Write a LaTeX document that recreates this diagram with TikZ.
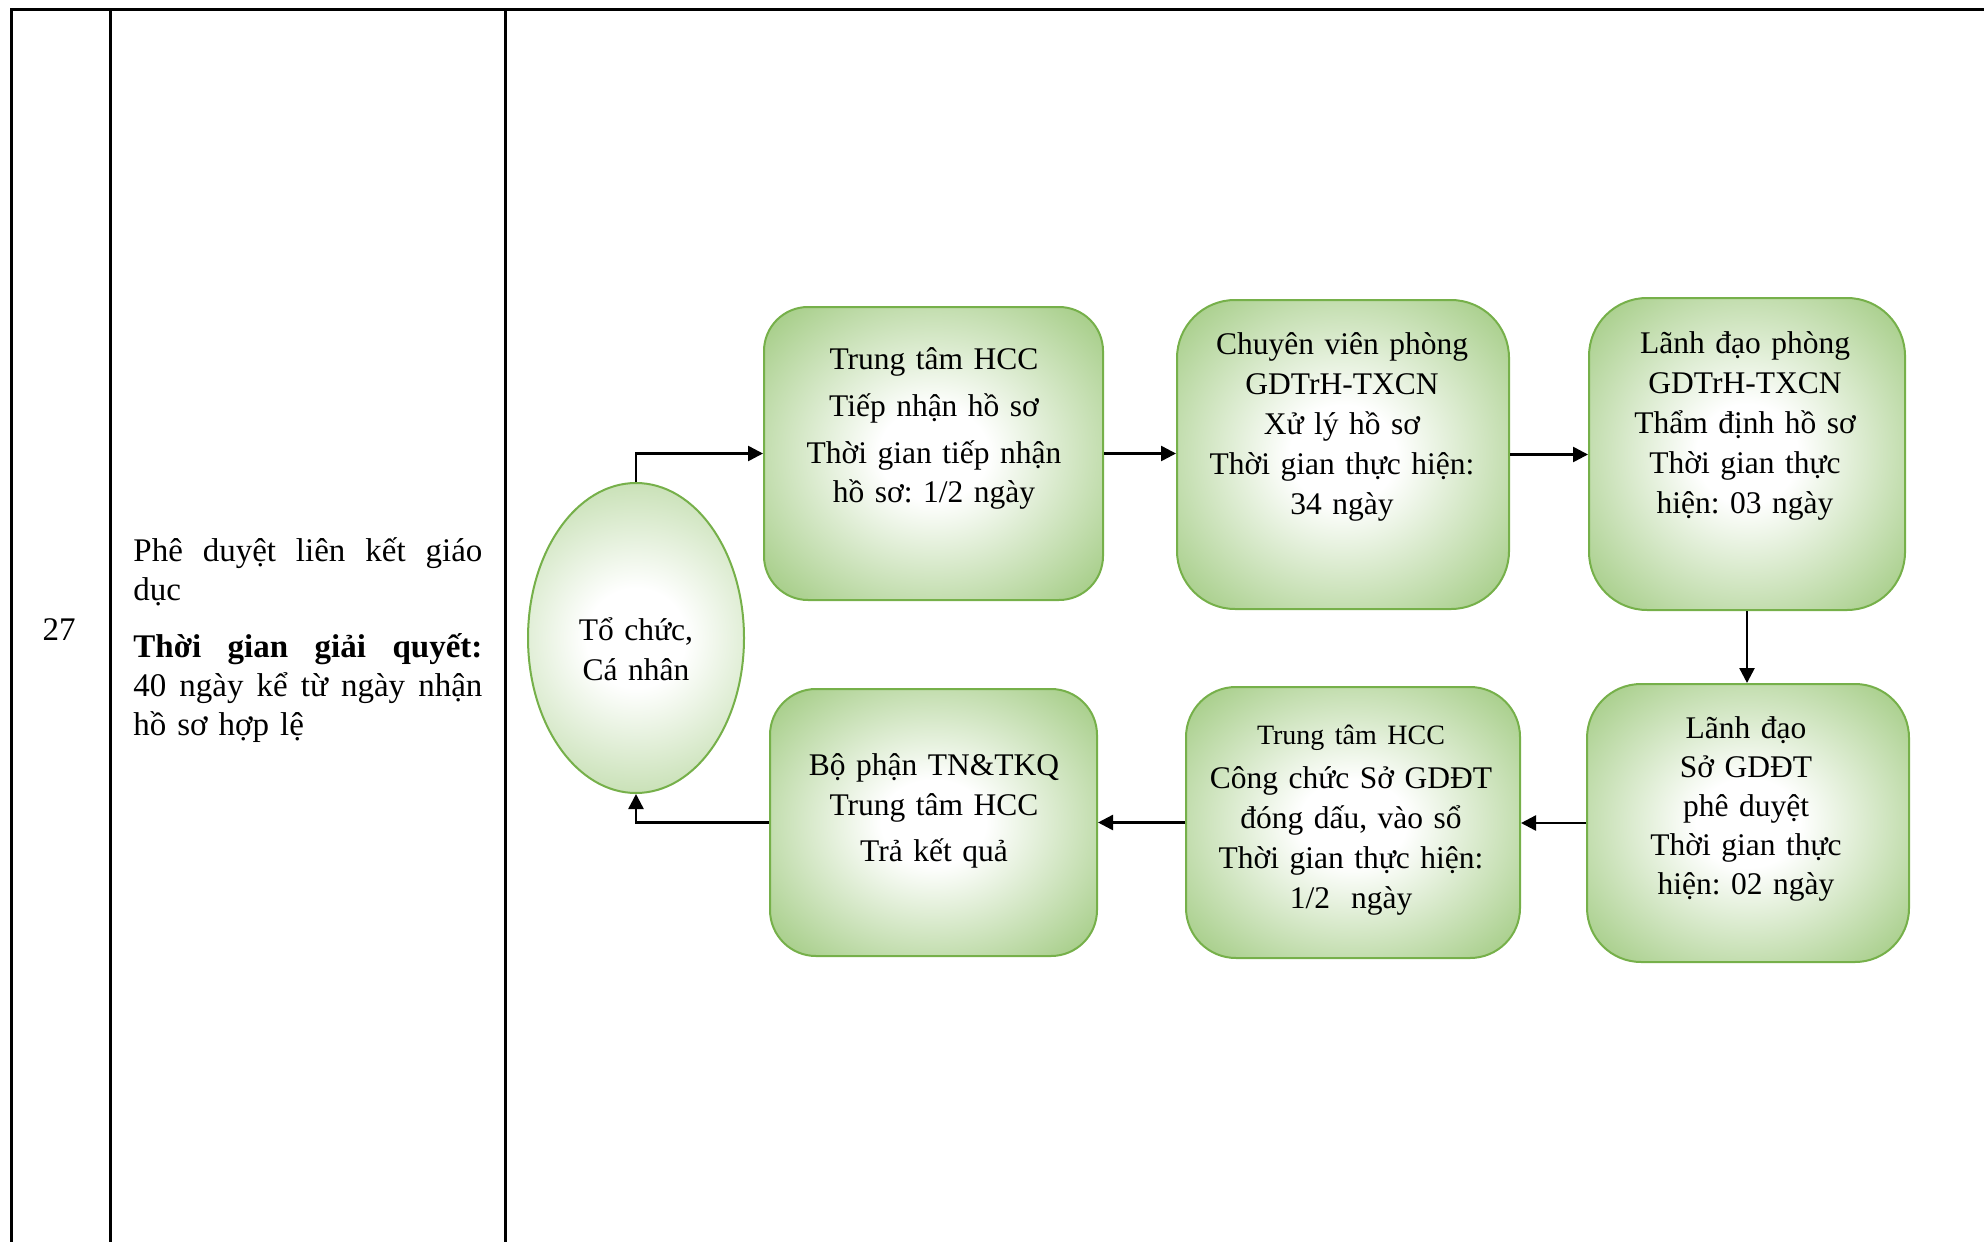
\documentclass[tikz,border=0pt]{standalone}
\usepackage{fontspec}
\setmainfont{Liberation Serif}
\usetikzlibrary{arrows.meta,shapes.geometric}
\definecolor{gmid}{RGB}{142,192,104}
\definecolor{gdark}{RGB}{114,174,72}
\definecolor{gline}{RGB}{118,176,74}
\pgfdeclareradialshading{boxshade}{\pgfpoint{0bp}{0bp}}{color(0bp)=(white); color(8bp)=(white); color(40bp)=(gmid); color(70bp)=(gdark)}
\pgfdeclareradialshading{ellshade}{\pgfpoint{0bp}{0bp}}{color(0bp)=(white); color(8bp)=(white); color(44bp)=(gmid); color(70bp)=(gdark)}
\newcommand{\topstrut}{\rule{0pt}{16pt}}
\newcommand{\jline}[1]{\leavevmode\hbox to 174.5pt{#1}}
\frenchspacing
\begin{document}
\begin{tikzpicture}[x=0.5pt,y=-0.5pt,
  tableline/.style={line width=1.5pt, black, line join=miter},
  conn/.style={line width=1.25pt, black, -{Triangle[length=7.5pt,width=7.5pt]}},
  procbox/.style={draw=gline, line width=1pt, shade, shading=boxshade, inner sep=0pt},
  boxtext/.style={anchor=north, inner sep=0pt, align=center, text width=165pt,
    font=\fontsize{15.75pt}{20pt}\selectfont},
]
\useasboundingbox (0,0) rectangle (1984,1241);
% table
\draw[tableline] (1984,10) -- (11,10) -- (11,1245);
\draw[tableline] (110,10) -- (110,1245);
\draw[tableline] (505,10) -- (505,1245);
\node[font=\fontsize{16.5pt}{19.5pt}\selectfont, anchor=base, inner sep=0pt] (num) at (59,640) {27};
\node[anchor=north west, inner sep=0pt, text width=174.5pt, align=left,
  font=\fontsize{16.5pt}{19.5pt}\selectfont] (desc) at (133,529)
  {\topstrut\jline{Phê\hfill duyệt\hfill liên\hfill kết\hfill giáo}\\ dục\\[9pt]
   \jline{\bfseries Thời\hfill gian\hfill giải\hfill quyết:}\\
   \jline{40\hfill ngày\hfill kể\hfill từ\hfill ngày\hfill nhận}\\ hồ sơ hợp lệ};
% shapes
\node[ellipse, draw=gline, line width=1pt,
  minimum width=108pt, minimum height=155pt, inner sep=0pt,
  path picture={\shade[shading=ellshade] (path picture bounding box.center) circle (77.5pt);}] (ell) at (636,638) {};
\node[procbox, minimum width=169.5pt, minimum height=146.5pt, rounded corners=22pt] (b1) at (933.5,453.5) {};
\node[procbox, minimum width=166pt, minimum height=154.5pt, rounded corners=29pt] (b2) at (1343,454.5) {};
\node[procbox, minimum width=158pt, minimum height=156pt, rounded corners=29pt] (b3) at (1747,454) {};
\node[procbox, minimum width=161pt, minimum height=139pt, rounded corners=27pt] (b4) at (1748,823) {};
\node[procbox, minimum width=167pt, minimum height=135.5pt, rounded corners=25pt] (b5) at (1353,822.5) {};
\node[procbox, minimum width=163.5pt, minimum height=133.5pt, rounded corners=23pt] (b6) at (933.5,822.5) {};
% texts
\node[boxtext] (te) at (636,608) {\topstrut Tổ chức,\\ Cá nhân};
\node[boxtext] (t1) at (934,337) {\topstrut Trung tâm HCC\\[3.5pt] Tiếp nhận hồ sơ\\[3.5pt] Thời gian tiếp nhận\\[-0.5pt] hồ sơ: 1/2 ngày};
\node[boxtext] (t2) at (1342,322) {\topstrut Chuyên viên phòng\\ GDTrH-TXCN\\ Xử lý hồ sơ\\ Thời gian thực hiện:\\ 34 ngày};
\node[boxtext] (t3) at (1745,321) {\topstrut Lãnh đạo phòng\\ GDTrH-TXCN\\ Thẩm định hồ sơ\\ Thời gian thực\\ hiện: 03 ngày};
\node[boxtext, font=\fontsize{15.75pt}{19.5pt}\selectfont] (t4) at (1746,706) {\topstrut Lãnh đạo\\ Sở GDĐT\\ phê duyệt\\ Thời gian thực\\ hiện: 02 ngày};
\node[boxtext] (t5) at (1351,712) {\topstrut{\fontsize{14pt}{20pt}\selectfont Trung tâm HCC}\\[2pt] Công chức Sở GDĐT\\ đóng dấu, vào sổ\\ Thời gian thực hiện:\\ 1/2\ \ ngày};
\node[boxtext] (t6) at (934,743) {\topstrut Bộ phận TN\&TKQ\\ Trung tâm HCC\\[3pt] Trả kết quả};
% connectors
\draw[conn] (ell.north) |- (b1.west);
\draw[conn] (b1.east) -- (b1.east -| b2.west);
\draw[conn] (b2.east) -- (b2.east -| b3.west);
\draw[conn] (b3.south) -- (b3.south |- b4.north);
\draw[conn] (b4.west) -- (b4.west -| b5.east);
\draw[conn] (b5.west) -- (b5.west -| b6.east);
\draw[conn] (b6.west) -| (ell.south);
\end{tikzpicture}
\end{document}
